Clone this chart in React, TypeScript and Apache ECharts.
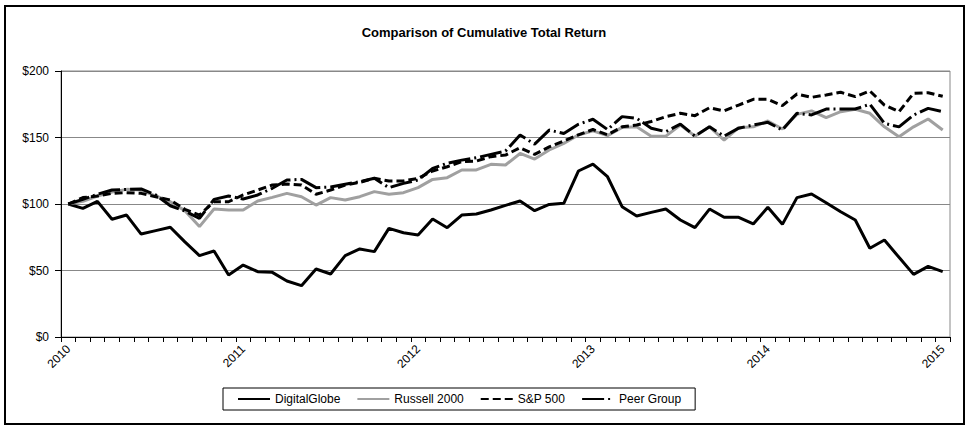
import React, { useEffect, useRef } from "react";
import * as echarts from "echarts";

const years = ["2010", "2011", "2012", "2013", "2014", "2015"];

const digitalGlobe = [
  100, 96.7, 102, 88.5, 91.7, 77.4, 80, 82.5, 71.5, 61.2, 64.7, 46.6, 54.1, 49.1, 48.6,
  42.1, 38.6, 51.1, 47.4, 61.2, 66.2, 64.2, 81.7, 78.4, 76.7, 88.7, 82.2, 91.7, 92.5, 95.5,
  99, 102.3, 95, 99.7, 100.5, 124.8, 130, 120.5, 98, 91, 93.7, 96.2, 88, 82.2, 96.2,
  90, 90, 85, 97.5, 84.7, 104.8, 107.5, 101, 94.2, 88, 66.7, 72.9, 59.9, 47.1, 53.1,
  49.1,
];

const russell2000 = [
  100, 102, 106, 109, 111, 110.5, 106, 101.7, 95, 83, 96.2, 95.5, 95.5, 102.3, 105,
  108, 105.5, 99.2, 104.8, 103, 105.5, 109.3, 107.3, 108.5, 112.3, 118.5, 119.8, 125.6, 125.6, 129.8,
  129.3, 138, 133.8, 140.6, 145.6, 151.9, 155, 151.4, 157.6, 158, 151, 151, 159.4, 151, 158,
  148, 157.4, 158, 162.4, 156.4, 167.4, 170, 165, 169.4, 171.2, 168.2, 158, 150.6, 158, 163.9,
  155.6,
];

const sp500 = [
  100, 104.8, 106, 108, 108.5, 108, 105.5, 103, 96, 91.7, 101.7, 101.7, 106.8, 110.5, 114.3,
  115, 114.3, 107.3, 110.5, 114.3, 116.3, 119.3, 117.3, 117.3, 119.3, 124.8, 128, 131.8, 132.3, 135.6,
  136.8, 142.3, 137.3, 143, 147.4, 152, 156, 152, 158, 159.4, 162, 165.7, 168.2, 166.4, 172.4,
  170, 174.4, 178.7, 178.7, 174, 182.7, 180.2, 182, 184, 180.7, 185, 174.4, 169.4, 183.2, 183.7,
  181,
];

const peerGroup = [
  100, 103.5, 107.3, 110.5, 111, 111.3, 106.8, 98.7, 94.7, 89.2, 103.5, 106, 103.8, 106.8, 111.8,
  118, 118.5, 112.3, 112.8, 114.8, 116.8, 119.3, 112.3, 115.5, 118, 126.8, 130.6, 133, 134.8, 137.3,
  139.8, 151.9, 145, 155.6, 153, 159.9, 163.7, 156, 165.7, 164.4, 157, 154.4, 160, 151, 158,
  151, 157, 159.4, 161.4, 155.6, 168.2, 167, 171.4, 171.4, 171.4, 175, 160.6, 158, 166.9, 171.9,
  169.4,
];

const seriesNames = ["DigitalGlobe", "Russell 2000", "S&P 500", "Peer Group"];

const months: string[] = [];
years.forEach((y, yi) => {
  const count = yi === years.length - 1 ? 1 : 12;
  for (let m = 1; m <= count; m++) months.push(`${y}-${m < 10 ? "0" + m : m}`);
});

const FONT = "'Liberation Sans', Arial, sans-serif";

export default function App() {
  const ref = useRef<HTMLDivElement>(null);
  useEffect(() => {
    if (!ref.current) return;
    const chart = echarts.init(ref.current, null, { renderer: "svg" });
    const lineBase = { type: "line", symbol: "none", smooth: false };
    chart.setOption({
      animation: false,
      backgroundColor: "#fff",
      textStyle: { fontFamily: FONT },
      title: {
        text: "Comparison of Cumulative Total Return",
        left: "center",
        top: 21,
        textStyle: { fontFamily: FONT, fontSize: 13, fontWeight: "bold", color: "#000" },
      },
      graphic: [
        {
          type: "rect",
          shape: { x: 5, y: 6, width: 959, height: 418 },
          style: { fill: "none", stroke: "#000", lineWidth: 2 },
          silent: true,
          z: 100,
        },
      ],
      legend: {
        data: seriesNames,
        left: 223,
        top: 388,
        orient: "horizontal",
        itemWidth: 32,
        itemHeight: 12,
        itemGap: 16,
        padding: [5, 14, 5, 14],
        borderColor: "#000",
        borderWidth: 1,
        itemStyle: { color: "rgba(0,0,0,0)", borderColor: "rgba(0,0,0,0)", borderWidth: 0 },
        textStyle: { fontFamily: FONT, fontSize: 12, color: "#000" },
      },
      grid: { left: 61, right: 18, top: 71, bottom: 92, show: true, borderColor: "#888", borderWidth: 1 },
      xAxis: {
        type: "category",
        data: months,
        boundaryGap: true,
        axisLine: { lineStyle: { color: "#000", width: 1 } },
        axisTick: { show: true, interval: 0, length: 5, lineStyle: { color: "#000" } },
        axisLabel: {
          interval: 11,
          rotate: 45,
          margin: 10,
          color: "#000",
          fontFamily: FONT,
          fontSize: 12,
          formatter: (v: string) => v.slice(0, 4),
        },
        splitLine: { show: false },
      },
      yAxis: {
        type: "value",
        min: 0,
        max: 200,
        interval: 50,
        axisLine: { show: true, lineStyle: { color: "#000", width: 1 } },
        axisTick: { show: true, length: 6, lineStyle: { color: "#000" } },
        axisLabel: {
          color: "#000",
          fontFamily: FONT,
          fontSize: 12,
          margin: 12,
          formatter: (v: number) => "$" + v,
        },
        splitLine: { show: true, lineStyle: { color: "#888", width: 1 } },
      },
      series: [
        {
          ...lineBase,
          name: seriesNames[0],
          data: digitalGlobe,
          itemStyle: { color: "#000" },
          lineStyle: { color: "#000", width: 3 },
        },
        {
          ...lineBase,
          name: seriesNames[1],
          data: russell2000,
          itemStyle: { color: "#a0a0a0" },
          lineStyle: { color: "#a0a0a0", width: 3 },
        },
        {
          ...lineBase,
          name: seriesNames[2],
          data: sp500,
          itemStyle: { color: "#000" },
          lineStyle: { color: "#000", width: 3, type: [8, 4], cap: "butt" },
        },
        {
          ...lineBase,
          name: seriesNames[3],
          data: peerGroup,
          itemStyle: { color: "#000" },
          lineStyle: { color: "#000", width: 3, type: [22, 4, 2, 4], cap: "butt" },
        },
      ],
    });
    return () => chart.dispose();
  }, []);
  return (
    <div
      ref={ref}
      style={{ position: "absolute", left: 0, top: 0, width: 968, height: 429 }}
    />
  );
}
